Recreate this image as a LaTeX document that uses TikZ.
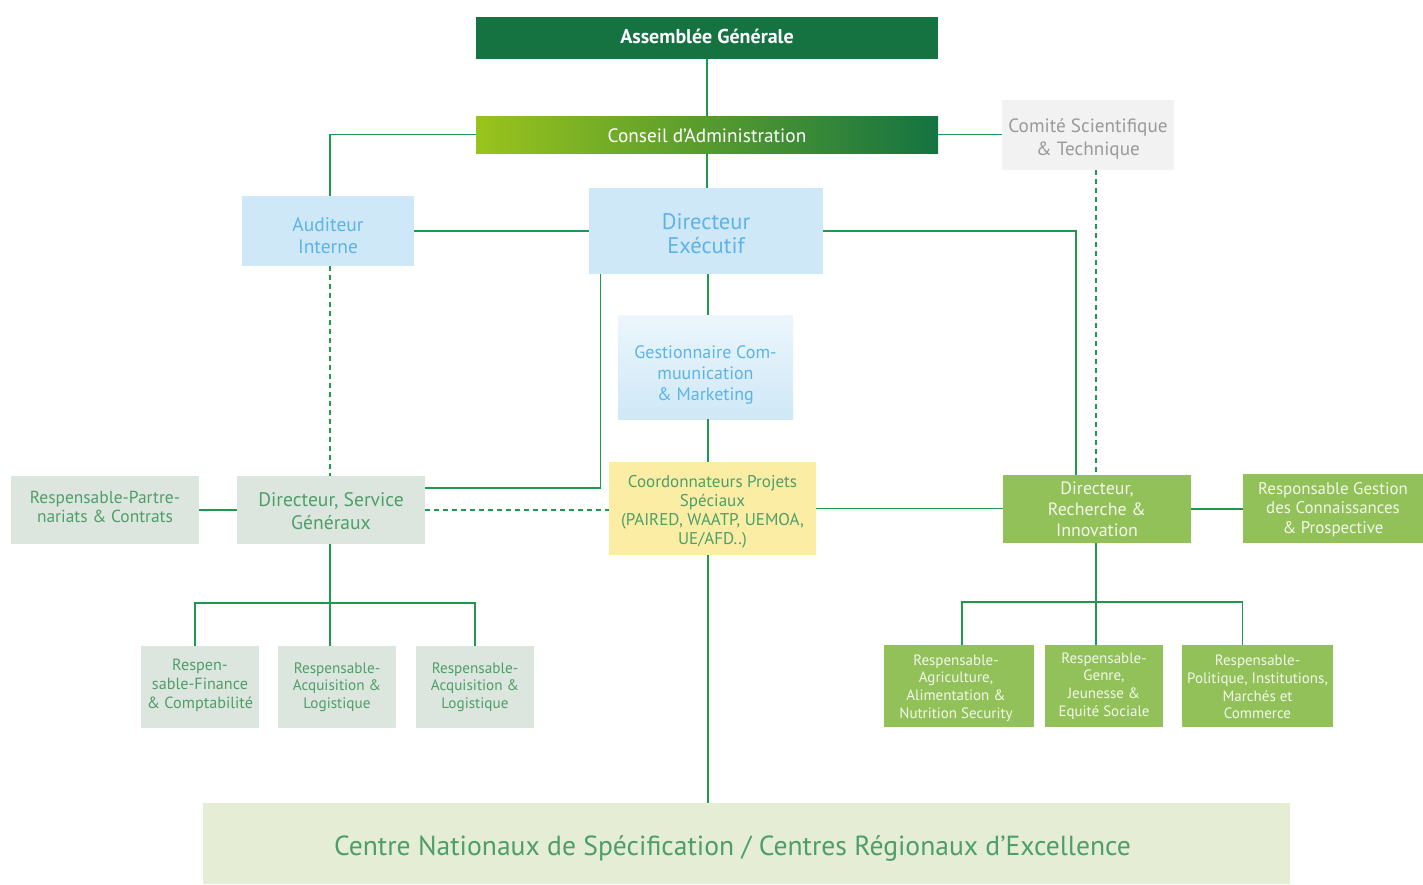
\documentclass[tikz,border=0pt]{standalone}
\usepackage{fontspec}
\setmainfont{PT Sans}
\usetikzlibrary{calc}
\definecolor{dkgreen}{HTML}{147341}
\definecolor{ltgreen}{HTML}{9AC31C}
\definecolor{wire}{HTML}{1F9A4D}
\definecolor{bluefill}{HTML}{CFE8F7}
\definecolor{bluetext}{HTML}{5CB4E6}
\definecolor{grayfill}{HTML}{F2F2F2}
\definecolor{graytext}{HTML}{9A9A9A}
\definecolor{yelfill}{HTML}{FBEEA4}
\definecolor{gtext}{HTML}{4E9E6A}
\definecolor{sagefill}{HTML}{DDE6DE}
\definecolor{midgreen}{HTML}{92C15A}
\definecolor{whtext}{HTML}{F2F7EA}
\definecolor{palefill}{HTML}{E5EDD5}
\newcommand{\fs}[2]{\fontsize{#1}{#2}\selectfont}
\tikzset{
  box/.style={rectangle, inner sep=0pt, draw=none},
  txt/.style={inner sep=0pt, align=center},
  bluebox/.style={box, fill=bluefill},
  sagebox/.style={box, fill=sagefill},
  greenbox/.style={box, fill=midgreen},
  wireline/.style={draw=wire, line width=1.2pt},
  dashline/.style={draw=wire, line width=1.2pt, dash pattern=on 5pt off 4pt}
}
\begin{document}
\begin{tikzpicture}[x=1pt, y=-1pt]
\useasboundingbox[fill=white] (0,0) rectangle (1423,884);
% boxes
\node[box, fill=dkgreen, minimum width=462pt, minimum height=42pt] (AG) at (707,38) {};
\node[box, left color=ltgreen, right color=dkgreen, minimum width=462pt, minimum height=37pt] (CA) at (707,134.5) {};
\node[box, fill=grayfill, minimum width=172pt, minimum height=70pt] (CS) at (1088,135) {};
\node[bluebox, minimum width=172pt, minimum height=70pt] (AI) at (328,231) {};
\node[bluebox, minimum width=234pt, minimum height=86pt] (DE) at (706,231) {};
\node[box, top color=white!60!bluefill, bottom color=bluefill, minimum width=175pt, minimum height=104pt] (GM) at (705.5,367) {};
\node[box, fill=yelfill, minimum width=207pt, minimum height=93pt] (CP) at (712.5,508.5) {};
\node[sagebox, minimum width=188pt, minimum height=68pt] (DSG) at (331,510) {};
\node[sagebox, minimum width=188pt, minimum height=68pt] (RP) at (105,510) {};
\node[sagebox, minimum width=118pt, minimum height=82pt] (RF) at (200,687) {};
\node[sagebox, minimum width=118pt, minimum height=82pt] (RA1) at (337,687) {};
\node[sagebox, minimum width=118pt, minimum height=82pt] (RA2) at (475,687) {};
\node[greenbox, minimum width=188pt, minimum height=68pt] (DRI) at (1097,509) {};
\node[greenbox, minimum width=180pt, minimum height=69pt] (RGC) at (1333,508.5) {};
\node[greenbox, minimum width=150pt, minimum height=82pt] (RAG) at (959,686) {};
\node[greenbox, minimum width=118pt, minimum height=82pt] (RGE) at (1104,686) {};
\node[greenbox, minimum width=151pt, minimum height=82pt] (RPO) at (1257.5,686) {};
\node[box, fill=palefill, minimum width=1087pt, minimum height=81pt] (CN) at (746.5,843.5) {};
% texts
\node[txt, text=white, font=\fs{20}{24}\bfseries] (AGt) at ([yshift=2pt]AG.center) {Assemblée Générale};
\node[txt, text=white, font=\fs{19.3}{23}] (CAt) at ([yshift=-1pt]CA.center) {Conseil d’Administration};
\node[txt, text=graytext, font=\fs{19.2}{23}] (CSt) at ([yshift=-4pt]CS.center) {Comité Scientifique\\\& Technique};
\node[txt, text=bluetext, font=\fs{19.5}{22}] (AIt) at ([yshift=-5pt]AI.center) {Auditeur\\Interne};
\node[txt, text=bluetext, font=\fs{22.5}{24}] (DEt) at ([yshift=-3pt]DE.center) {Directeur\\Exécutif};
\node[txt, text=bluetext, font=\fs{18}{21}] (GMt) at ([yshift=-8pt]GM.center) {Gestionnaire Com-\\muunication\\\& Marketing};
\node[txt, text=gtext, font=\fs{17}{19}] (CPt) at ([yshift=-3pt]CP.center) {Coordonnateurs Projets\\Spéciaux\\(PAIRED, WAATP, UEMOA,\\UE/AFD..)};
\node[txt, text=gtext, font=\fs{19.6}{23}] (DSGt) at ([yshift=-1pt]DSG.center) {Directeur, Service\\Généraux};
\node[txt, text=gtext, font=\fs{17.4}{19}] (RPt) at ([yshift=3pt]RP.center) {Respensable-Partre-\\nariats \& Contrats};
\node[txt, text=gtext, font=\fs{16.2}{19}] (RFt) at ([yshift=2pt]RF.center) {Respen-\\sable-Finance\\\& Comptabilité};
\node[txt, text=gtext, font=\fs{15.2}{17.5}] (RA1t) at (RA1.center) {Respensable-\\Acquisition \&\\Logistique};
\node[txt, text=gtext, font=\fs{15.2}{17.5}] (RA2t) at (RA2.center) {Respensable-\\Acquisition \&\\Logistique};
\node[txt, text=whtext, font=\fs{17.9}{21}] (DRIt) at (DRI.center) {Directeur,\\Recherche \&\\Innovation};
\node[txt, text=whtext, font=\fs{16.9}{19.5}] (RGCt) at ([yshift=-1pt]RGC.center) {Responsable Gestion\\des Connaissances\\\& Prospective};
\node[txt, text=whtext, font=\fs{15}{17.7}] (RAGt) at ([xshift=-3pt,yshift=-2pt]RAG.center) {Respensable-\\Agriculture,\\Alimentation \&\\Nutrition Security};
\node[txt, text=whtext, font=\fs{15}{17.7}] (RGEt) at (RGE.center) {Respensable-\\Genre,\\Jeunesse \&\\Equité Sociale};
\node[txt, text=whtext, font=\fs{15}{17.7}] (RPOt) at ([yshift=-1pt]RPO.center) {Respensable-\\Politique, Institutions,\\Marchés et\\Commerce};
\node[txt, text=gtext, font=\fs{27.6}{30}] (CNt) at ([xshift=-14pt,yshift=-5pt]CN.center) {Centre Nationaux de Spécification / Centres Régionaux d’Excellence};
% connectors
\draw[wireline] (AG.south) -- (CA.north);
\draw[wireline] (CA.south) -- (CA.south |- DE.north);
\draw[wireline] (CA.east) -- (CA.east -| CS.west);
\draw[wireline] (CA.west) -| ([xshift=2pt]AI.north);
\draw[wireline] (AI.east) -- (DE.west);
\draw[wireline] (DE.east) -| ([xshift=-21pt]DRI.north);
\draw[dashline] ([xshift=8pt]CS.south) -- ([xshift=8pt]CS.south |- DRI.north);
\draw[dashline] ([xshift=2pt]AI.south) -- ([xshift=2pt]AI.south |- DSG.north);
\draw[wireline] ([xshift=12pt]DE.south west) |- ([yshift=22pt]DSG.east);
\draw[wireline] ([xshift=2pt]DE.south) -- ([xshift=2pt]DE.south |- GM.north);
\draw[wireline] ([xshift=2.5pt]GM.south) -- ([xshift=2.5pt]GM.south |- CP.north);
\draw[wireline] ([xshift=-4.5pt]CP.south) -- ([xshift=-4.5pt]CP.south |- CN.north);
\draw[wireline] (CP.east) -- (CP.east -| DRI.west);
\draw[dashline] (DSG.east) -- (DSG.east -| CP.west);
\draw[wireline] (RP.east) -- (DSG.west);
\draw[wireline] (DRI.east) -- (DRI.east -| RGC.west);
% left children bus
\coordinate (busL) at (330,603);
\draw[wireline] ([xshift=-1pt]DSG.south) -- ([xshift=-1pt]DSG.south |- RA1.north);
\draw[wireline] ([xshift=-5pt]RF.north) |- (busL) -| (RA2.north);
% right children bus
\coordinate (busR) at (1096,602);
\draw[wireline] ([xshift=-1pt]DRI.south) -- ([xshift=-1pt]DRI.south |- RGE.north);
\draw[wireline] ([xshift=3pt]RAG.north) |- (busR) -| ([xshift=-15pt]RPO.north);
\end{tikzpicture}
\end{document}
